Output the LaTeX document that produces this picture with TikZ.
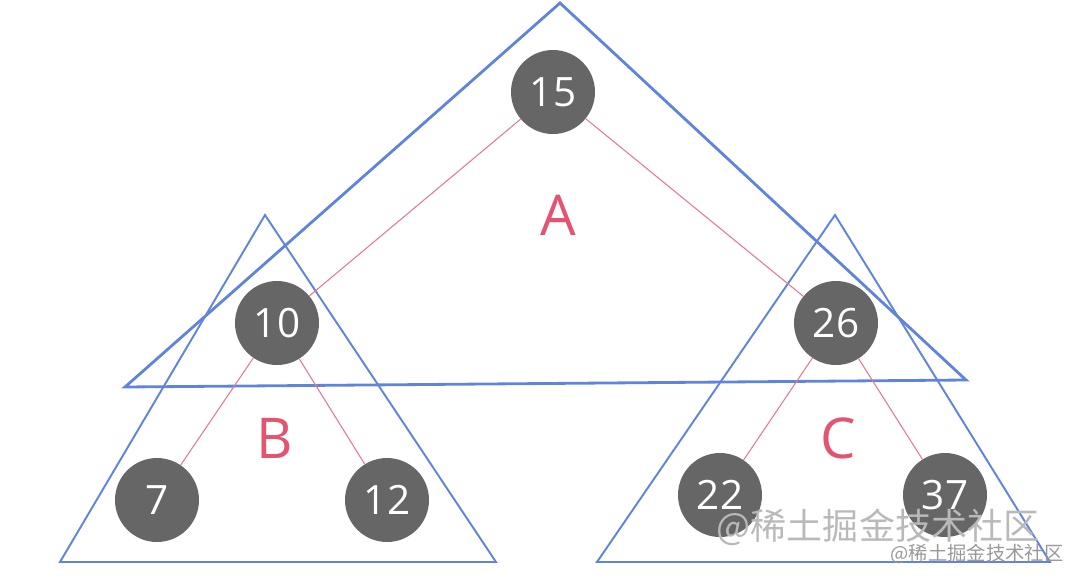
\documentclass[tikz,border=0pt]{standalone}
\usepackage{fontspec}
\setmainfont{Open Sans}
\newfontfamily\cjk{Noto Sans CJK SC}
\definecolor{triblue}{RGB}{96,132,222}
\definecolor{edgepink}{RGB}{232,120,140}
\definecolor{labelpink}{RGB}{226,84,112}
\definecolor{keygray}{RGB}{102,102,102}

\begin{document}
\begin{tikzpicture}[x=0.2mm, y=-0.2mm,
  key/.style={circle, fill=keygray, minimum size=1.68cm, inner sep=0pt, text=white, font=\fontsize{23}{25}\selectfont},
  link/.style={draw=edgepink, line width=0.6pt},
  subtree/.style={draw=triblue, line width=1.1pt, line join=miter},
  bigtree/.style={draw=triblue, line width=1.6pt, line join=miter},
  treename/.style={text=labelpink, font=\fontsize{32}{34}\selectfont}]

\useasboundingbox (0,0) rectangle (1076,582);

% subtrees
\draw[bigtree] (560,3) -- (966,380) -- (125,387) -- cycle;
\draw[subtree] (265,215) -- (496,562) -- (60,562) -- cycle;
\draw[subtree] (835,215) -- (1050,562) -- (597,562) -- cycle;

% keys
\node[key] (k15) at (553,92) {15};
\node[key] (k10) at (277,323) {10};
\node[key] (k26) at (836,323) {26};
\node[key] (k7) at (157,500) {7};
\node[key] (k12) at (387,500) {12};
\node[key] (k22) at (720,495) {22};
\node[key] (k37) at (945,495) {37};

\draw[link] (k15) -- (k10);
\draw[link] (k15) -- (k26);
\draw[link] (k10) -- (k7);
\draw[link] (k10) -- (k12);
\draw[link] (k26) -- (k22);
\draw[link] (k26) -- (k37);

% names
\node[treename] (nameA) at (558,215) {A};
\node[treename] (nameB) at (275,438) {B};
\node[treename] (nameC) at (838,438) {C};

% watermark
\node[text=gray!55, font=\cjk\fontsize{20.5}{22}\selectfont] (mark) at (878,527) {@稀土掘金技术社区};
\node[text=gray!80, font=\cjk\fontsize{11}{12}\selectfont] (marksmall) at (977,554) {@稀土掘金技术社区};
\end{tikzpicture}
\end{document}
